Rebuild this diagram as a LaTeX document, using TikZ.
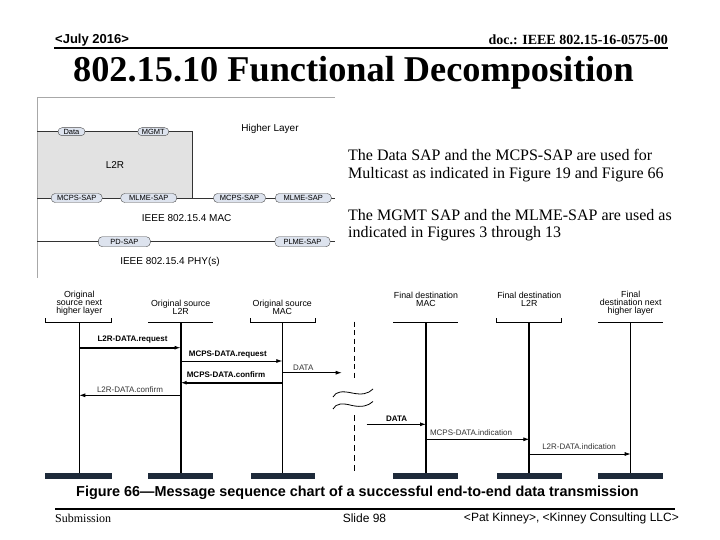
\documentclass[tikz,border=0pt]{standalone}
\usepackage{fontspec}
\setmainfont{Liberation Serif}
\setsansfont{Liberation Sans}
\usetikzlibrary{arrows.meta}
\definecolor{pillblue}{HTML}{DDE3EE}
\definecolor{boxgray}{HTML}{E2E2E2}
\definecolor{barnavy}{HTML}{1E2A3A}
\definecolor{framegray}{HTML}{A8A8A8}
\tikzset{
  pill/.style={draw=gray!60!black, fill=pillblue, rounded corners=4pt, minimum height=9pt, inner sep=0pt, font=\sffamily\fontsize{7.5}{8}\selectfont},
  laytext/.style={font=\sffamily\fontsize{10}{12}\selectfont, inner sep=0pt},
  lifelabel/.style={font=\sffamily\fontsize{8.8}{8.4}\selectfont, align=center, inner sep=0pt},
  msglabel/.style={font=\sffamily\bfseries\fontsize{8}{9}\selectfont, inner sep=0pt},
  msglight/.style={font=\sffamily\fontsize{8}{9}\selectfont, inner sep=0pt, text=black!80},
  msg/.style={-{Latex[length=6pt,width=4pt]}, line width=0.8pt},
  msgthick/.style={-{Latex[length=6pt,width=4pt]}, line width=2pt},
  bar/.style={fill=barnavy},
}
\begin{document}
\begin{tikzpicture}[x=1pt,y=-1pt]
\useasboundingbox (0,0) rectangle (720,540);

% header
\node[anchor=west, font=\sffamily\bfseries\fontsize{13}{14}\selectfont, inner sep=0pt] (date) at (55,40) {<July 2016>};
\node[anchor=east, font=\bfseries\fontsize{14}{16}\selectfont, inner sep=0pt] (doc) at (668,40) {doc.: IEEE 802.15-16-0575-00};
\draw[line width=2pt] (54,48) -- (668,48);
\node[font=\bfseries\fontsize{36.3}{40}\selectfont, inner sep=0pt] (title) at (353.5,73) {802.15.10 Functional Decomposition};

% layer figure
\fill[boxgray] (37,131.7) rectangle (192,198);
\draw[framegray] (335,97) -- (37,97) -- (37,278);
\draw[gray!40!black, line width=0.8pt] (37,131.7) -- (192,131.7) -- (192,198);
\draw[gray!40!black, line width=0.8pt] (37,198) -- (335,198);
\draw[gray!40!black, line width=0.8pt] (37,241.7) -- (335,241.7);

\node[pill, minimum width=27pt, minimum height=8pt] (pdata) at (71.5,131.7) {Data};
\node[pill, minimum width=31pt, minimum height=8pt] (pmgmt) at (153.3,131.7) {MGMT};
\node[pill, minimum width=51pt] (pmcps1) at (76.7,198) {MCPS-SAP};
\node[pill, minimum width=56pt] (pmlme1) at (148.7,198) {MLME-SAP};
\node[pill, minimum width=52pt] (pmcps2) at (239.5,198) {MCPS-SAP};
\node[pill, minimum width=56pt] (pmlme2) at (303.3,198) {MLME-SAP};
\node[pill, minimum width=52pt, minimum height=10pt] (ppd) at (124.3,241.7) {PD-SAP};
\node[pill, minimum width=55pt, minimum height=10pt] (pplme) at (302.5,241.7) {PLME-SAP};

\node[laytext] (higher) at (270,129) {Higher Layer};
\node[laytext] (l2r) at (115,165) {L2R};
\node[laytext] (mac) at (186.7,218) {IEEE 802.15.4 MAC};
\node[laytext] (phy) at (170,261.7) {IEEE 802.15.4 PHY(s)};

% right text
\node[anchor=west, align=left, font=\fontsize{16}{18.3}\selectfont, inner sep=0pt] (t1) at (348,165.9) {The Data SAP and the MCPS-SAP are used for\\Multicast as indicated in Figure 19 and Figure 66};
\node[anchor=west, align=left, font=\fontsize{16}{17.3}\selectfont, inner sep=0pt] (t2) at (348,225.4) {The MGMT SAP and the MLME-SAP are used as\\indicated in Figures 3 through 13};

% lifeline labels
\node[lifelabel] (h1) at (79.3,303.3) {Original\\source next\\higher layer};
\node[lifelabel] (h2) at (180.7,307.5) {Original source\\L2R};
\node[lifelabel] (h3) at (282.3,307.5) {Original source\\MAC};
\node[lifelabel] (h4) at (426,299.2) {Final destination\\MAC};
\node[lifelabel] (h5) at (529.3,299.2) {Final destination\\L2R};
\node[lifelabel] (h6) at (630.7,303.3) {Final\\destination next\\higher layer};

% header brackets
\draw[line width=0.8pt] (45,318) -- (45,322.3) -- (111.7,322.3) -- (111.7,318);
\draw[line width=0.8pt] (148.3,322.3) -- (212.7,322.3);
\draw[line width=0.8pt] (250.7,318) -- (250.7,322.3) -- (315,322.3) -- (315,318);
\draw[line width=0.8pt] (393.3,322.3) -- (458.3,322.3);
\draw[line width=0.8pt] (496.7,318) -- (496.7,322.3) -- (561.7,322.3) -- (561.7,318);
\draw[line width=0.8pt] (598.3,322.3) -- (663.3,322.3);

% lifelines
\coordinate (l1t) at (79.3,322.3);  \coordinate (l1b) at (79.3,473);
\coordinate (l2t) at (180.7,322.3); \coordinate (l2b) at (180.7,473);
\coordinate (l3t) at (282.3,322.3); \coordinate (l3b) at (282.3,473);
\coordinate (l4t) at (426,322.3);   \coordinate (l4b) at (426,473);
\coordinate (l5t) at (529.3,322.3); \coordinate (l5b) at (529.3,473);
\coordinate (l6t) at (630.7,322.3); \coordinate (l6b) at (630.7,473);
\draw[line width=0.9pt] (l1t) -- (l1b);
\draw[line width=2pt] (l2t) -- (l2b);
\draw[line width=0.9pt] (l3t) -- (l3b);
\draw[line width=2pt] (l4t) -- (l4b);
\draw[line width=2pt] (l5t) -- (l5b);
\draw[line width=1.4pt] (l6t) -- (l6b);

% bottom bars
\fill[bar] (45,473) rectangle (111.7,479);
\fill[bar] (148.3,473) rectangle (212.7,479);
\fill[bar] (250.7,473) rectangle (315,479);
\fill[bar] (393.3,473) rectangle (458.3,479);
\fill[bar] (496.7,473) rectangle (561.7,479);
\fill[bar] (598.3,473) rectangle (663.3,479);

% break in the middle
\draw[line width=0.8pt, dash pattern=on 5pt off 3.5pt] (354.5,321.7) -- (354.5,380);
\draw[line width=1.8pt, dash pattern=on 6pt off 4pt] (354.5,415) -- (354.5,472);
\draw[line width=0.8pt] (333,397) .. controls (336,391) and (343,391) .. (352,393) .. controls (362,395) and (368,394) .. (373,389);
\draw[line width=0.8pt] (333,409) .. controls (336,403) and (343,403) .. (352,405.5) .. controls (362,407.5) and (368,406) .. (373,401.5);

% messages
\coordinate (dataend) at (341.7,372.7);
\coordinate (datastart) at (366.7,424.3);
\draw[msgthick] (l1t |- 0,347.7) -- (l2t |- 0,347.7);
\node[msglabel] (m1) at (132.5,340) {L2R-DATA.request};
\draw[msg] (l2t |- 0,361) -- (l3t |- 0,361);
\node[msglabel] (m2) at (227.8,354.5) {MCPS-DATA.request};
\draw[msg] (l3t |- dataend) -- (dataend);
\node[msglight] (m3) at (303.3,368) {DATA};
\draw[msgthick] (l3t |- 0,382.7) -- (l2t |- 0,382.7);
\node[msglabel] (m4) at (226,374.5) {MCPS-DATA.confirm};
\draw[msg] (l2t |- 0,395.3) -- (l1t |- 0,395.3);
\node[msglight] (m5) at (130,390) {L2R-DATA.confirm};
\draw[msg] (datastart) -- (l4t |- datastart);
\node[msglabel] (m6) at (396.7,418.3) {DATA};
\draw[msg] (l4t |- 0,439.3) -- (l5t |- 0,439.3);
\node[msglight] (m7) at (471,432.7) {MCPS-DATA.indication};
\draw[msg] (l5t |- 0,454) -- (l6t |- 0,454);
\node[msglight] (m8) at (579,446.5) {L2R-DATA.indication};

% caption
\node[font=\sffamily\bfseries\fontsize{14.4}{16}\selectfont, inner sep=0pt] (cap) at (357.5,493) {Figure 66—Message sequence chart of a successful end-to-end data transmission};

% footer
\draw[line width=2pt] (55,509) -- (675,509);
\node[anchor=west, font=\fontsize{12}{14}\selectfont, inner sep=0pt] (sub) at (55,518) {Submission};
\node[font=\sffamily\fontsize{12}{14}\selectfont, inner sep=0pt] (slide) at (364.5,518) {Slide 98};
\node[anchor=east, font=\sffamily\fontsize{12}{14}\selectfont, inner sep=0pt] (auth) at (679,518) {<Pat Kinney>, <Kinney Consulting LLC>};
\end{tikzpicture}
\end{document}
